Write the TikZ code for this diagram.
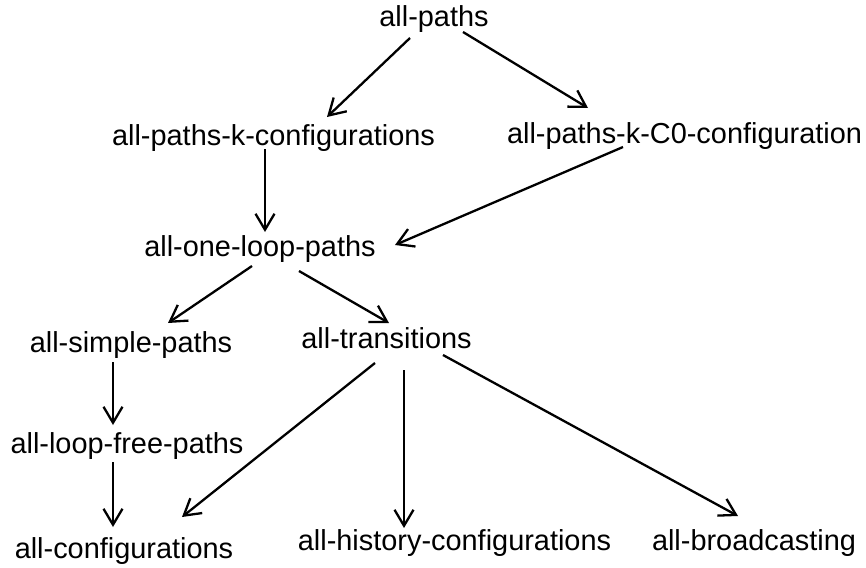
\documentclass[tikz,border=0pt]{standalone}
\usepackage{fontspec}
\setmainfont{Liberation Sans}
\usetikzlibrary{arrows.meta,calc}

\begin{document}
\begin{tikzpicture}[x=1pt, y=-1pt]
\tikzset{ >={Straight Barb[length=16pt, width=19pt]}, inner sep=0pt, outer sep=0pt,
  crit/.style={anchor=base, font=\fontsize{28.9}{34}\selectfont},
  link/.style={->, line width=2.3pt} }

\useasboundingbox (0,0) rectangle (866,567);
%\draw [lightgray, dashed](0,0) grid[step=50] (866,567);

\node [crit] (AP)  at (434,27)    {all-paths};
\node [crit] (KC)  at (273.5,145) {all-paths-k-configurations};
\node [crit] (K0)  at (684.5,143) {all-paths-k-C0-configuration};
\node [crit] (OL)  at (260,256)   {all-one-loop-paths};
\node [crit] (SP)  at (131,352)   {all-simple-paths};
\node [crit] (TR)  at (386.5,348) {all-transitions};
\node [crit] (LF)  at (127,453)   {all-loop-free-paths};
\node [crit] (CF)  at (124,558)   {all-configurations};
\node [crit] (HC)  at (454.5,550) {all-history-configurations};
\node [crit] (BC)  at (754,550)   {all-broadcasting};

\draw [link] ($(AP.base)+(-24,11)$)  -- ($(KC.base)+(53.5,-28)$);
\draw [link] ($(AP.base)+(29,5)$)    -- ($(K0.base)+(-96.5,-35)$);

\draw [link] ($(KC.base)+(-8.5,4)$)  -- ($(OL.base)+(5,-24)$);
\draw [link] ($(K0.base)+(-61.5,4)$) -- ($(OL.base)+(135,-11)$);

\draw [link] ($(OL.base)+(-8,10)$)   -- ($(SP.base)+(37,-29)$);
\draw [link] ($(OL.base)+(39,15)$)   -- ($(TR.base)+(2.5,-25)$);

\draw [link] ($(SP.base)+(-18,10)$)  -- ($(LF.base)+(-14,-28)$);
\draw [link] ($(LF.base)+(-14,9)$)   -- ($(CF.base)+(-11,-31)$);

\draw [link] ($(TR.base)+(-11.5,15)$) -- ($(CF.base)+(58,-41)$);
\draw [link] ($(TR.base)+(17.5,22)$)  -- ($(HC.base)+(-50.5,-22)$);
\draw [link] ($(TR.base)+(56.5,7)$)   -- ($(BC.base)+(-16,-34)$);
\end{tikzpicture}
\end{document}
